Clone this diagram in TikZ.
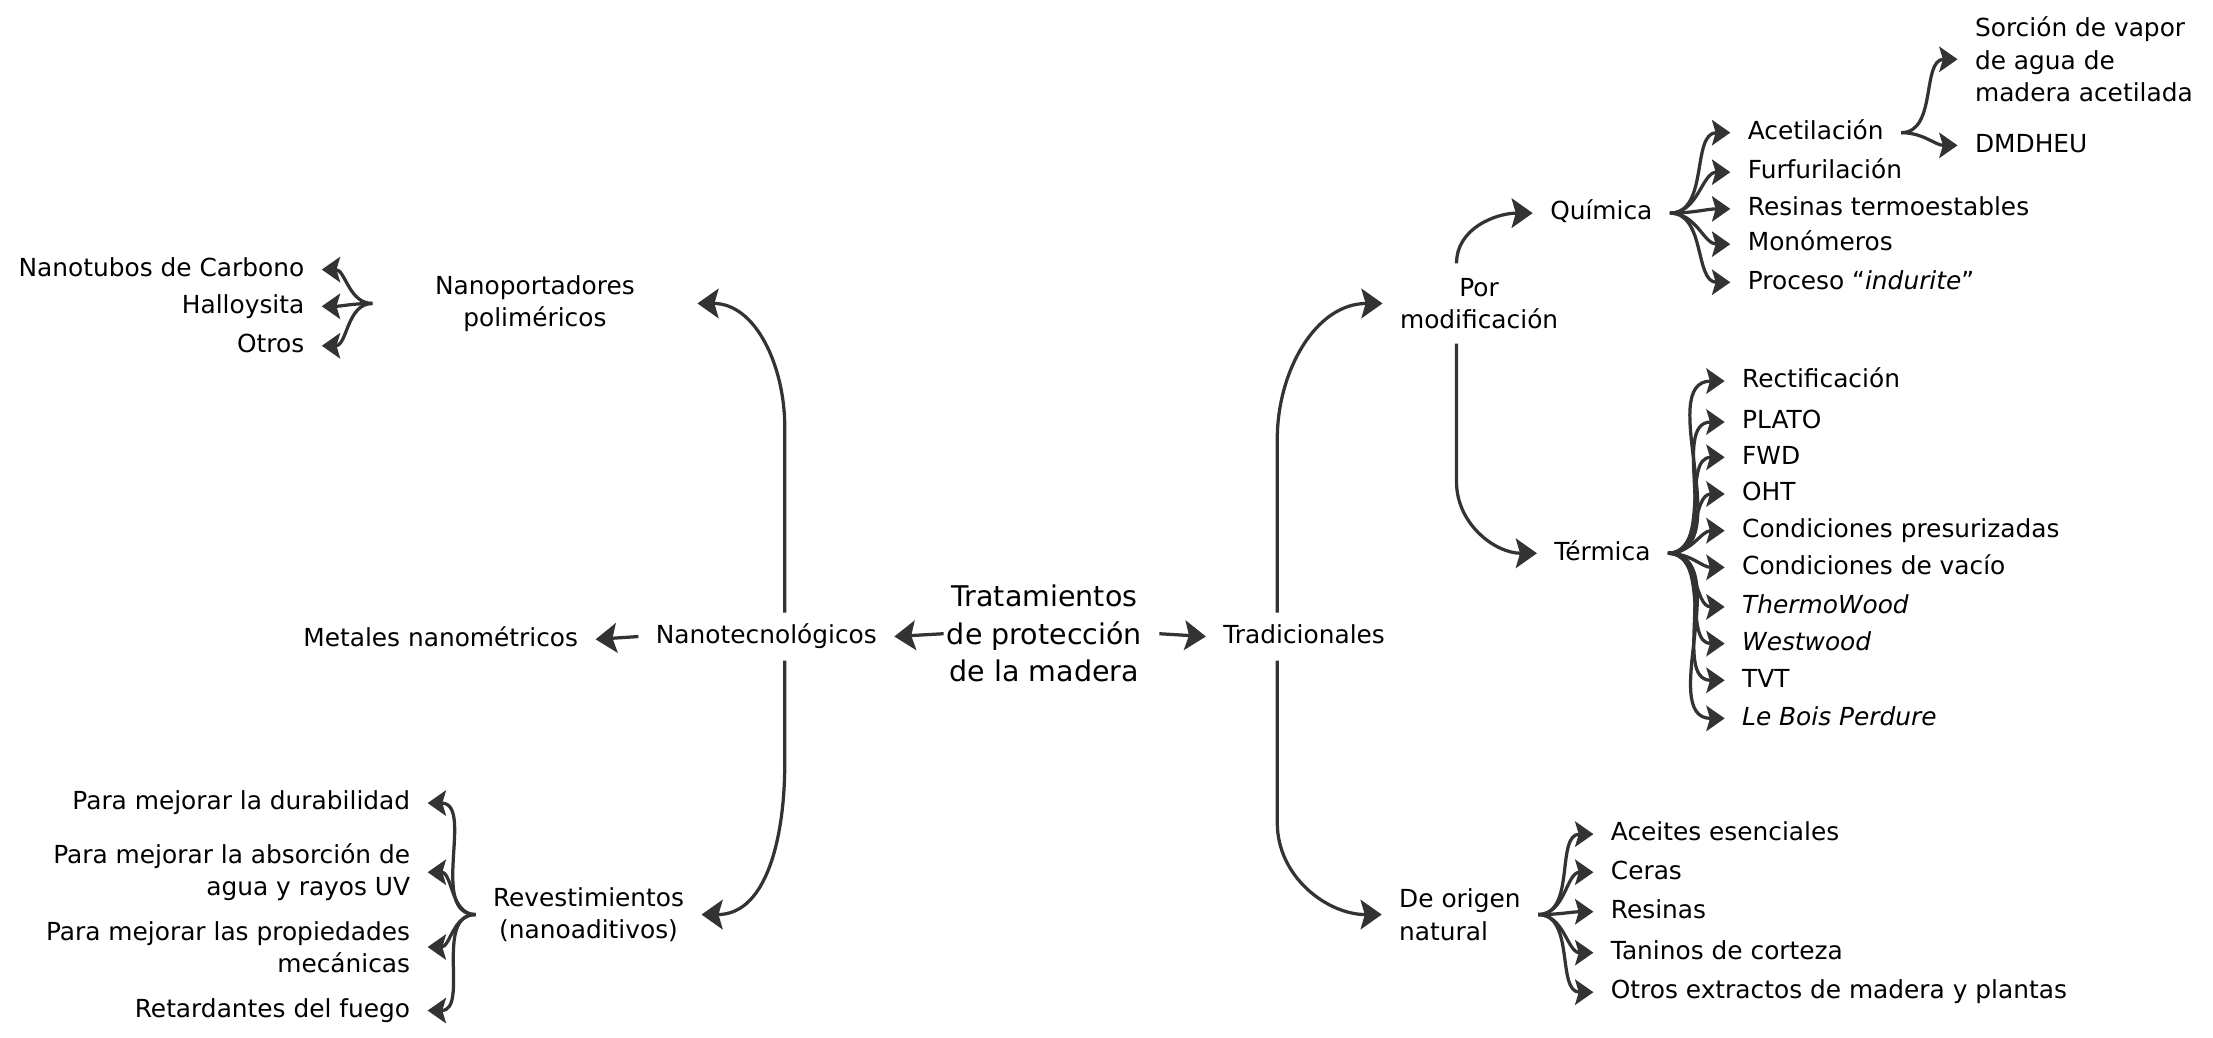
\documentclass[tikz,border=0pt]{standalone}
\usepackage{fontspec}
\setmainfont{DejaVu Sans}
\usetikzlibrary{arrows.meta}
\definecolor{ln}{HTML}{333333}
\begin{document}
\begin{tikzpicture}[x=0.5pt,y=-0.5pt,
  base/.style={inner xsep=6pt, inner ysep=2pt, font=\fontsize{8.8pt}{11.5pt}\selectfont},
  leaf/.style={base, text height=6.7pt, text depth=1.9pt},
  ctrfont/.style={inner xsep=1pt, inner ysep=2pt, font=\fontsize{10.1pt}{13.25pt}\selectfont},
  arr/.style={draw=ln, line width=1.15pt, -{Stealth[length=6.5pt,width=9pt,inset=1.3pt]}},
  bigarr/.style={draw=ln, line width=1.15pt, -{Stealth[length=7.5pt,width=10.5pt,inset=1.5pt]}},
  br/.style={arr, out=0, in=180},
  bl/.style={arr, out=180, in=0},
]
\useasboundingbox (0,-2) rectangle (1568,733);

% centre and first level
\node[ctrfont, align=center] (ctr) at (740,447) {Tratamientos\\de protección\\de la madera};
\node[leaf, inner ysep=4pt] (nano) at (543,449) {Nanotecnológicos};
\node[leaf, inner ysep=4pt] (trad) at (924,449) {Tradicionales};

% nano side
\node[leaf, anchor=east] (metal) at (422,451) {Metales nanométricos};
\node[base, align=center, inner xsep=22pt] (nport) at (379,213) {Nanoportadores\\poliméricos};
\node[base, align=center] (rev) at (417,646) {Revestimientos\\(nanoaditivos)};

\node[leaf, anchor=east] (np1) at (228,189) {Nanotubos de Carbono};
\node[leaf, anchor=east] (np2) at (228,215) {Halloysita};
\node[leaf, anchor=east] (np3) at (228,243) {Otros};

\node[leaf, anchor=east] (rv1) at (303,567) {Para mejorar la durabilidad};
\node[base, anchor=east, align=right] (rv2) at (303,616) {Para mejorar la absorción de\\agua y rayos UV};
\node[base, anchor=east, align=right] (rv3) at (303,669) {Para mejorar las propiedades\\mecánicas};
\node[leaf, anchor=east] (rv4) at (303,714) {Retardantes del fuego};

% traditional side
\node[base, align=center, inner ysep=5pt] (pmod) at (1048,213) {Por\\modificación};
\node[base, align=left, anchor=west] (dorig) at (979,646) {De origen\\natural};
\node[leaf, anchor=west] (quim) at (1086,149) {Química};
\node[leaf, anchor=west] (term) at (1089,390) {Térmica};

\node[leaf, anchor=west] (q1) at (1226,92) {Acetilación};
\node[leaf, anchor=west] (q2) at (1226,120) {Furfurilación};
\node[leaf, anchor=west] (q3) at (1226,146) {Resinas termoestables};
\node[leaf, anchor=west] (q4) at (1226,171) {Monómeros};
\node[leaf, anchor=west] (q5) at (1226,198) {Proceso “\textit{indurite}”};

\node[base, align=left, anchor=west] (sorc) at (1387,40) {Sorción de vapor\\de agua de\\madera acetilada};
\node[leaf, anchor=west] (dmd) at (1387,101) {DMDHEU};

\node[leaf, anchor=west] (t1) at (1222,268) {Rectificación};
\node[leaf, anchor=west] (t2) at (1222,297) {PLATO};
\node[leaf, anchor=west] (t3) at (1222,322) {FWD};
\node[leaf, anchor=west] (t4) at (1222,348) {OHT};
\node[leaf, anchor=west] (t5) at (1222,374) {Condiciones presurizadas};
\node[leaf, anchor=west] (t6) at (1222,400) {Condiciones de vacío};
\node[leaf, anchor=west] (t7) at (1222,428) {\textit{ThermoWood}};
\node[leaf, anchor=west] (t8) at (1222,454) {\textit{Westwood}};
\node[leaf, anchor=west] (t9) at (1222,480) {TVT};
\node[leaf, anchor=west] (t10) at (1222,507) {\textit{Le Bois Perdure}};

\node[leaf, anchor=west] (n1) at (1129,589) {Aceites esenciales};
\node[leaf, anchor=west] (n2) at (1129,616) {Ceras};
\node[leaf, anchor=west] (n3) at (1129,644) {Resinas};
\node[leaf, anchor=west] (n4) at (1129,673) {Taninos de corteza};
\node[leaf, anchor=west] (n5) at (1129,701) {Otros extractos de madera y plantas};

% main connectors
\draw[bigarr] (ctr.west) -- (nano.east);
\draw[bigarr] ([xshift=5pt]ctr.east) -- (trad.west);
\draw[bigarr] (nano.west) -- (metal.east);
\draw[bigarr] ([xshift=6.5pt]nano.north) -- ++(0,-132) to[out=90,in=0] (nport.east);
\draw[bigarr] ([xshift=6.5pt]nano.south) -- ++(0,74) to[out=-90,in=0] (rev.east);
\draw[bigarr] ([xshift=-9.5pt]trad.north) -- ++(0,-123) to[out=90,in=180] (pmod.west);
\draw[bigarr] ([xshift=-9.5pt]trad.south) -- ++(0,115) to[out=-90,in=180] (dorig.west);
\draw[bigarr] ([xshift=-8pt]pmod.north) to[out=90,in=180] (quim.west);
\draw[bigarr] ([xshift=-8pt]pmod.south) -- ++(0,98) to[out=-90,in=180] (term.west);

% branches
\foreach \k in {np1,np2,np3} \draw[bl] (nport.west) to (\k.east);
\foreach \k in {rv1,rv2,rv3,rv4} \draw[bl] (rev.west) to (\k.east);
\foreach \k in {q1,q2,q3,q4,q5} \draw[br] (quim.east) to (\k.west);
\foreach \k in {sorc,dmd} \draw[br] (q1.east) to (\k.west);
\foreach \k in {t1,t2,t3,t4,t5,t6,t7,t8,t9,t10} \draw[br] (term.east) to (\k.west);
\foreach \k in {n1,n2,n3,n4,n5} \draw[br] (dorig.east) to (\k.west);
\end{tikzpicture}
\end{document}
